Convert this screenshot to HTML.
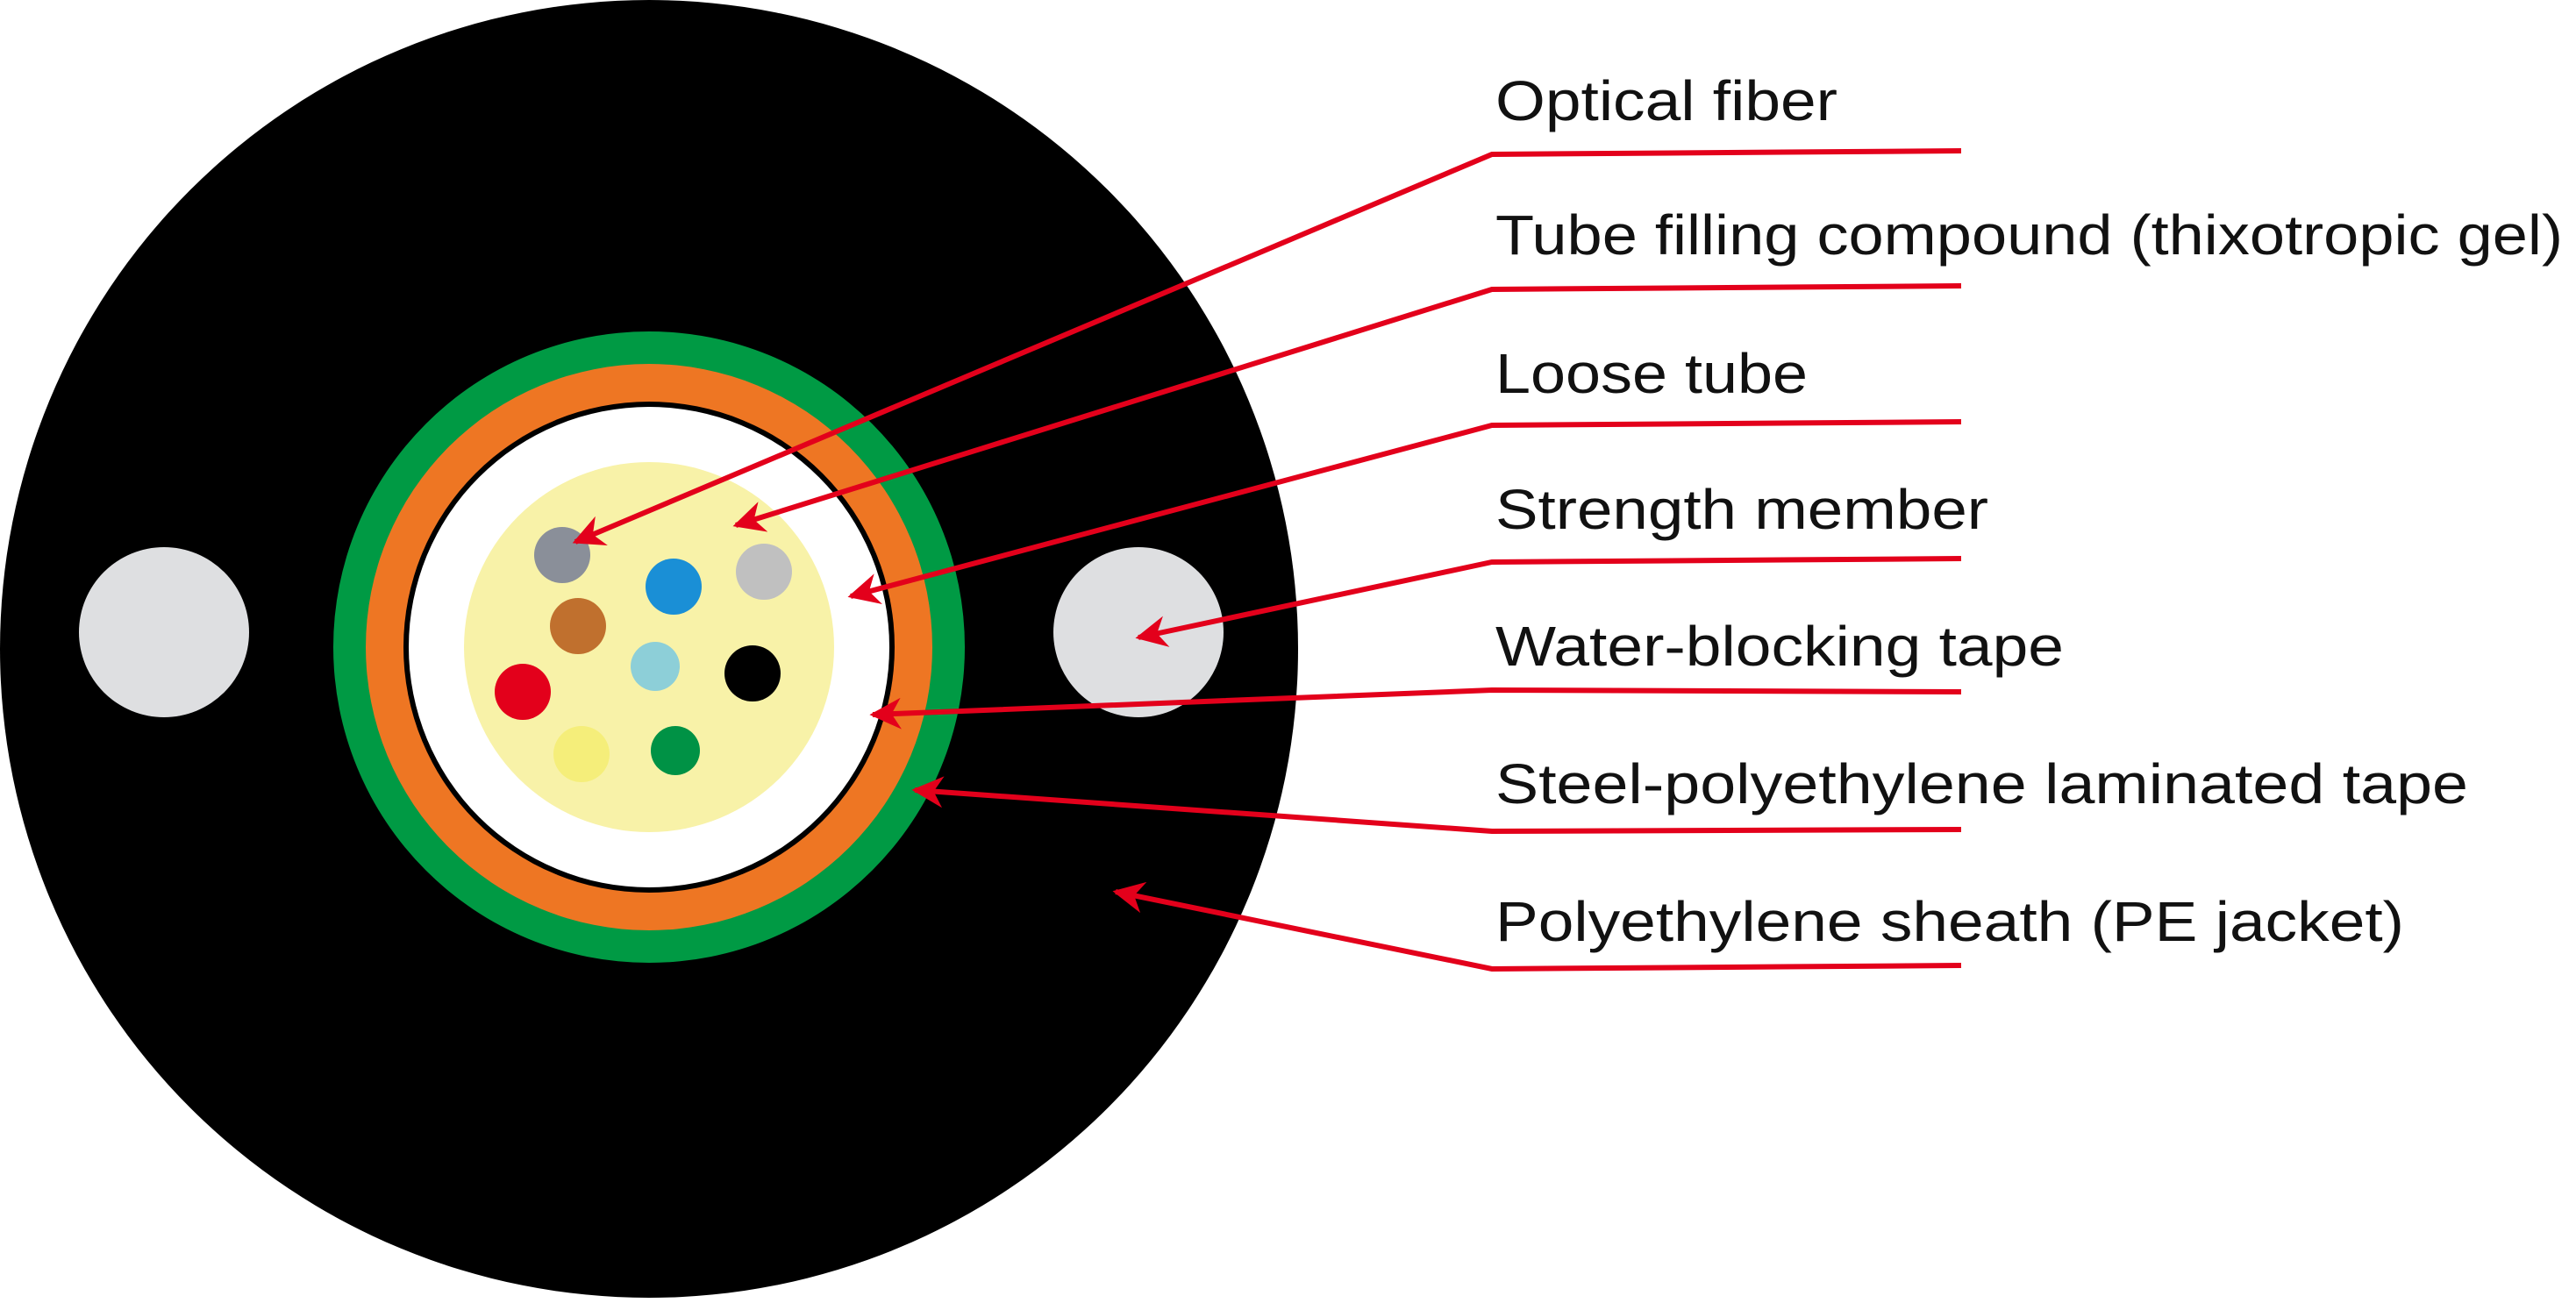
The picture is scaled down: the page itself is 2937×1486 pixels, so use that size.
<!DOCTYPE html><html><head><style>body{margin:0;background:#fff}</style></head><body>
<svg width="2937" height="1481" xmlns="http://www.w3.org/2000/svg">
<defs><marker id="a" viewBox="0 0 10 10" refX="9" refY="5" markerWidth="6" markerHeight="6" orient="auto"><path d="M10,5 L0,0 L3,5 L0,10 z" fill="#e3001b"/></marker></defs>
<circle cx="740" cy="740" r="740" fill="#000"/>
<circle cx="187" cy="721" r="97" fill="#dedfe1"/>
<circle cx="1298" cy="721" r="97" fill="#dedfe1"/>
<circle cx="740" cy="738" r="360" fill="#009a44"/>
<circle cx="740" cy="738" r="323" fill="#ee7623"/>
<circle cx="740" cy="738" r="280" fill="#000"/>
<circle cx="740" cy="738" r="274" fill="#fff"/>
<circle cx="740" cy="738" r="211" fill="#f8f2a8"/>
<circle cx="641" cy="633" r="32" fill="#8a8f99"/>
<circle cx="768" cy="669" r="32" fill="#1a8fd6"/>
<circle cx="871" cy="652" r="32" fill="#c0c0c0"/>
<circle cx="659" cy="714" r="32" fill="#c0702e"/>
<circle cx="747" cy="760" r="28" fill="#8dcfd8"/>
<circle cx="858" cy="768" r="32" fill="#000"/>
<circle cx="596" cy="789" r="32" fill="#e3001b"/>
<circle cx="663" cy="860" r="32" fill="#f5ee7a"/>
<circle cx="770" cy="856" r="28" fill="#009245"/>
<g stroke="#e3001b" stroke-width="6" fill="none">
<polyline points="2236,172 1701,176 656,618" marker-end="url(#a)"/>
<polyline points="2236,326 1701,330 839,599" marker-end="url(#a)"/>
<polyline points="2236,481 1701,485 970,680" marker-end="url(#a)"/>
<polyline points="2236,637 1701,641 1298,727" marker-end="url(#a)"/>
<polyline points="2236,789 1701,787 995,815" marker-end="url(#a)"/>
<polyline points="2236,946 1701,948 1043,901" marker-end="url(#a)"/>
<polyline points="2236,1101 1701,1105 1272,1017" marker-end="url(#a)"/>
</g>
<g font-family="Liberation Sans, sans-serif" font-size="64" fill="#111">
<text x="1705" y="137" textLength="390" lengthAdjust="spacingAndGlyphs">Optical fiber</text>
<text x="1705" y="290" textLength="1217" lengthAdjust="spacingAndGlyphs">Tube filling compound (thixotropic gel)</text>
<text x="1705" y="448" textLength="356" lengthAdjust="spacingAndGlyphs">Loose tube</text>
<text x="1705" y="603" textLength="562" lengthAdjust="spacingAndGlyphs">Strength member</text>
<text x="1705" y="759" textLength="648" lengthAdjust="spacingAndGlyphs">Water-blocking tape</text>
<text x="1705" y="916" textLength="1109" lengthAdjust="spacingAndGlyphs">Steel-polyethylene laminated tape</text>
<text x="1705" y="1073" textLength="1036" lengthAdjust="spacingAndGlyphs">Polyethylene sheath (PE jacket)</text>
</g>
</svg></body></html>
